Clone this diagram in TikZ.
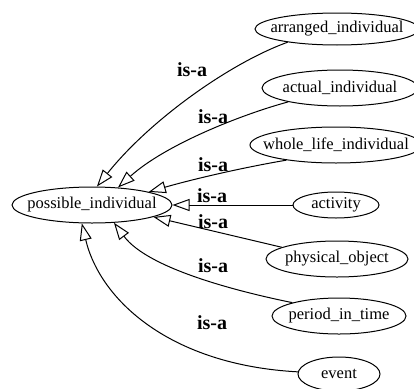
\documentclass[tikz,border=0pt]{standalone}
\usepackage{fontspec}
\setmainfont{Liberation Serif}
\usetikzlibrary{shapes.geometric,arrows.meta}
\begin{document}
\begin{tikzpicture}[x=1pt,y=1pt,
  ell/.style={draw, ellipse, line width=1pt, inner sep=0pt, font=\fontsize{16.5}{18}\selectfont},
  isa/.style={draw, line width=1pt, -{Triangle[open,length=17pt,width=12pt,line width=1pt]}},
  lbl/.style={font=\fontsize{20}{22}\selectfont\bfseries, inner sep=0pt}]
\useasboundingbox (0,0) rectangle (414,-388);
\node[ell, minimum width=160pt, minimum height=36pt] (pos) at (92,-205) {\makebox[0pt]{possible\_individual}};
\node[ell, minimum width=164pt, minimum height=32pt] (arr) at (337,-29) {\makebox[0pt]{arranged\_individual}};
\node[ell, minimum width=156pt, minimum height=36pt] (act) at (340,-88) {\makebox[0pt]{actual\_individual}};
\node[ell, minimum width=172pt, minimum height=36pt] (whl) at (336,-145) {\makebox[0pt]{whole\_life\_individual}};
\node[ell, minimum width=86pt, minimum height=26pt] (acv) at (336,-205) {\makebox[0pt]{activity}};
\node[ell, minimum width=142pt, minimum height=36pt] (phy) at (337,-259) {\makebox[0pt]{physical\_object}};
\node[ell, minimum width=134pt, minimum height=36pt] (per) at (339,-316) {\makebox[0pt]{period\_in\_time}};
\node[ell, minimum width=82pt, minimum height=34pt] (evt) at (339,-374) {\makebox[0pt]{event}};

\draw[isa] (arr.195) .. controls (230,-63) and (150,-120) .. (pos.75);
\draw[isa] (act.195) .. controls (240,-115) and (165,-145) .. (pos.34);
\draw[isa] (whl.197) .. controls (240,-168) and (190,-180) .. (pos.13);
\draw[isa] (acv.west) -- (pos.east);
\draw[isa] (phy.168) -- (pos.349);
\draw[isa] (per.164) .. controls (245,-293) and (149,-270) .. (pos.321);
\draw[isa] (evt.177) .. controls (170,-365) and (100,-300) .. (pos.241);

\node[lbl] (l1) at (192,-70) {is-a};
\node[lbl] (l2) at (213,-117) {is-a};
\node[lbl] (l3) at (213,-165) {is-a};
\node[lbl] (l4) at (212,-196) {is-a};
\node[lbl] (l5) at (213,-222) {is-a};
\node[lbl] (l6) at (213,-266) {is-a};
\node[lbl] (l7) at (212,-323) {is-a};
\end{tikzpicture}
\end{document}
